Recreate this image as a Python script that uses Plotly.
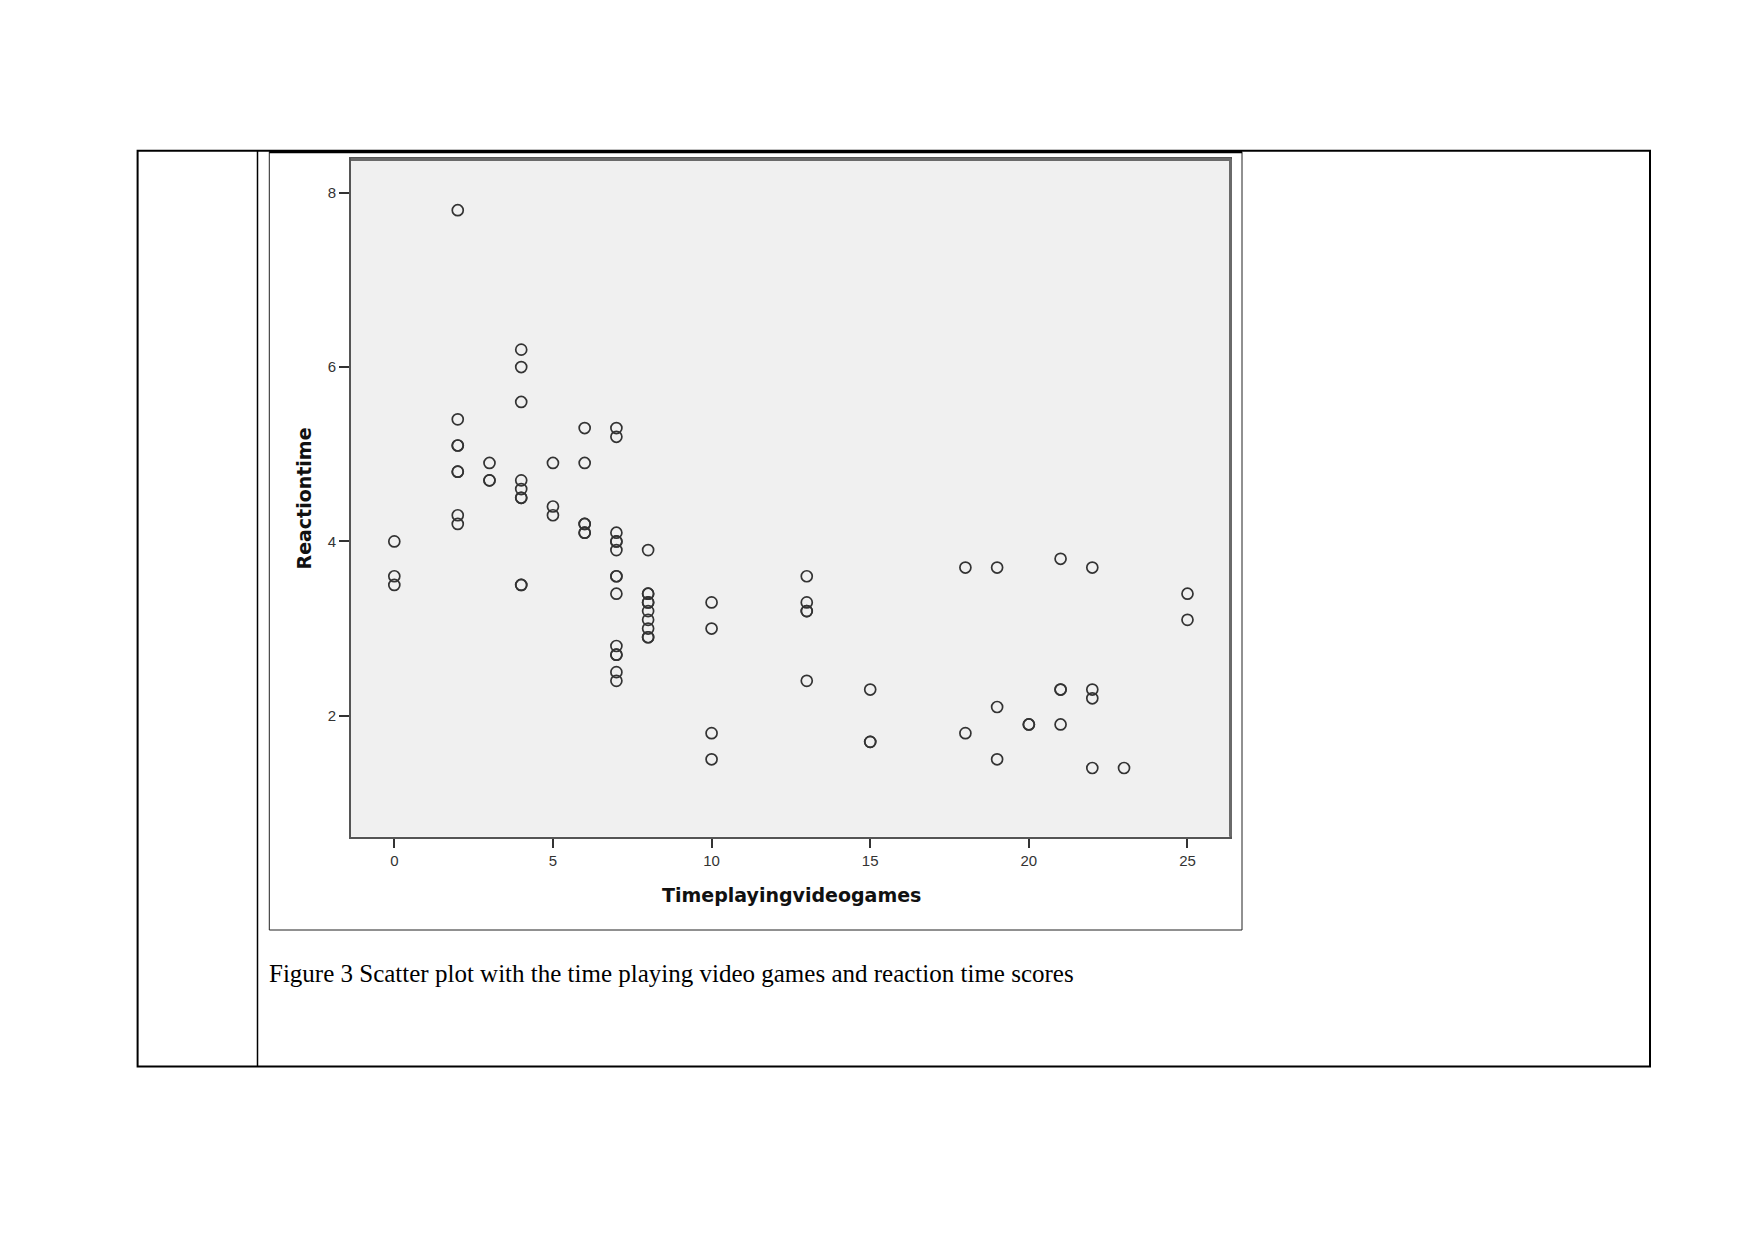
import plotly.graph_objects as go

W, H = 1754, 1241

# ---- data ----
time_playing = (
    [0, 0, 0]
    + [2] * 8
    + [3] * 3
    + [4] * 9
    + [5] * 3
    + [6] * 6
    + [7] * 14
    + [8] * 10
    + [10] * 4
    + [13] * 5
    + [15] * 3
    + [18] * 2
    + [19] * 3
    + [20] * 2
    + [21] * 4
    + [22] * 4
    + [23]
    + [25] * 2
)
reaction_time = [
    4.0, 3.6, 3.5,
    7.8, 5.4, 5.1, 5.1, 4.8, 4.8, 4.3, 4.2,
    4.9, 4.7, 4.7,
    6.2, 6.0, 5.6, 4.7, 4.6, 4.5, 4.5, 3.5, 3.5,
    4.9, 4.4, 4.3,
    5.3, 4.9, 4.2, 4.2, 4.1, 4.1,
    5.3, 5.2, 4.1, 4.0, 4.0, 3.9, 3.6, 3.6, 3.4, 2.8, 2.7, 2.7, 2.5, 2.4,
    3.9, 3.4, 3.4, 3.3, 3.3, 3.2, 3.1, 3.0, 2.9, 2.9,
    3.3, 3.0, 1.8, 1.5,
    3.6, 3.3, 3.2, 3.2, 2.4,
    2.3, 1.7, 1.7,
    3.7, 1.8,
    3.7, 2.1, 1.5,
    1.9, 1.9,
    3.8, 2.3, 2.3, 1.9,
    3.7, 2.3, 2.2, 1.4,
    1.4,
    3.4, 3.1,
]
x_ticks = [0, 5, 10, 15, 20, 25]
y_ticks = [2, 4, 6, 8]
x_title = "Timeplayingvideogames"
y_title = "Reactiontime"
caption = "Figure 3 Scatter plot with the time playing video games and reaction time scores"


def px(x):
    return x / W


def py(y):
    return 1 - y / H


fig = go.Figure()
fig.add_trace(go.Scatter(
    x=time_playing, y=reaction_time, mode="markers",
    marker=dict(symbol="circle-open", size=11, color="#333333",
                line=dict(width=1.7, color="#333333")),
    showlegend=False, hoverinfo="x+y",
))

axis_font = dict(family="Liberation Sans, Arial, sans-serif", size=15, color="#333333")

fig.update_layout(
    width=W, height=H,
    margin=dict(l=0, r=0, t=0, b=0),
    paper_bgcolor="white",
    plot_bgcolor="#F0F0F0",
    xaxis=dict(
        domain=[px(351), px(1230)],
        range=[-1.365, 26.34],
        tickvals=x_ticks, ticktext=[str(v) for v in x_ticks],
        ticks="outside", ticklen=9, tickwidth=1.5, tickcolor="#333333",
        showgrid=False, zeroline=False,
        showline=True, mirror=True, linecolor="#555555", linewidth=2,
        tickfont=axis_font,
    ),
    yaxis=dict(
        domain=[py(836.7), py(159)],
        range=[0.612, 8.387],
        tickvals=y_ticks, ticktext=[str(v) for v in y_ticks],
        ticks="outside", ticklen=10, tickwidth=1.5, tickcolor="#333333",
        showgrid=False, zeroline=False,
        showline=True, mirror=True, linecolor="#555555", linewidth=2,
        tickfont=axis_font,
    ),
)

# page elements: table lines and the image frame
line_black = dict(color="black", width=2)
shapes = [
    # table outer
    dict(type="rect", xref="paper", yref="paper",
         x0=px(137.6), x1=px(1650), y0=py(1066.5), y1=py(150.7),
         line=line_black),
    # inner column separator
    dict(type="line", xref="paper", yref="paper",
         x0=px(257.5), x1=px(257.5), y0=py(1066.5), y1=py(150.7),
         line=dict(color="black", width=1.5)),
    # image frame
    dict(type="rect", xref="paper", yref="paper",
         x0=px(269.3), x1=px(1242), y0=py(930), y1=py(151.5),
         line=dict(color="#222222", width=1)),
    # thick top edge of the image
    dict(type="line", xref="paper", yref="paper",
         x0=px(269.3), x1=px(1242), y0=py(151.7), y1=py(151.7),
         line=dict(color="black", width=3)),
    # slightly heavier shaded top/right edges of the plot frame
    dict(type="line", xref="paper", yref="paper",
         x0=px(351), x1=px(1231), y0=py(159.5), y1=py(159.5),
         line=dict(color="#6a6a6a", width=3)),
    dict(type="line", xref="paper", yref="paper",
         x0=px(1230.5), x1=px(1230.5), y0=py(836.7), y1=py(159),
         line=dict(color="#6a6a6a", width=3)),
]
fig.update_layout(shapes=shapes)

title_font = dict(family="DejaVu Sans, Verdana, sans-serif", size=19, color="#111111")
fig.add_annotation(
    x=px(791), y=py(895), xref="paper", yref="paper",
    text="<b>" + x_title + "</b>", showarrow=False,
    xanchor="center", yanchor="middle", font=title_font,
)
fig.add_annotation(
    x=px(303.5), y=py(499), xref="paper", yref="paper",
    text="<b>" + y_title + "</b>", showarrow=False, textangle=-90,
    xanchor="center", yanchor="middle", font=title_font,
)
fig.add_annotation(
    x=px(266.5), y=py(973), xref="paper", yref="paper",
    text=caption, showarrow=False,
    xanchor="left", yanchor="middle",
    font=dict(family="Liberation Serif, Times New Roman, serif", size=25, color="black"),
)

fig.write_html("out.html")
